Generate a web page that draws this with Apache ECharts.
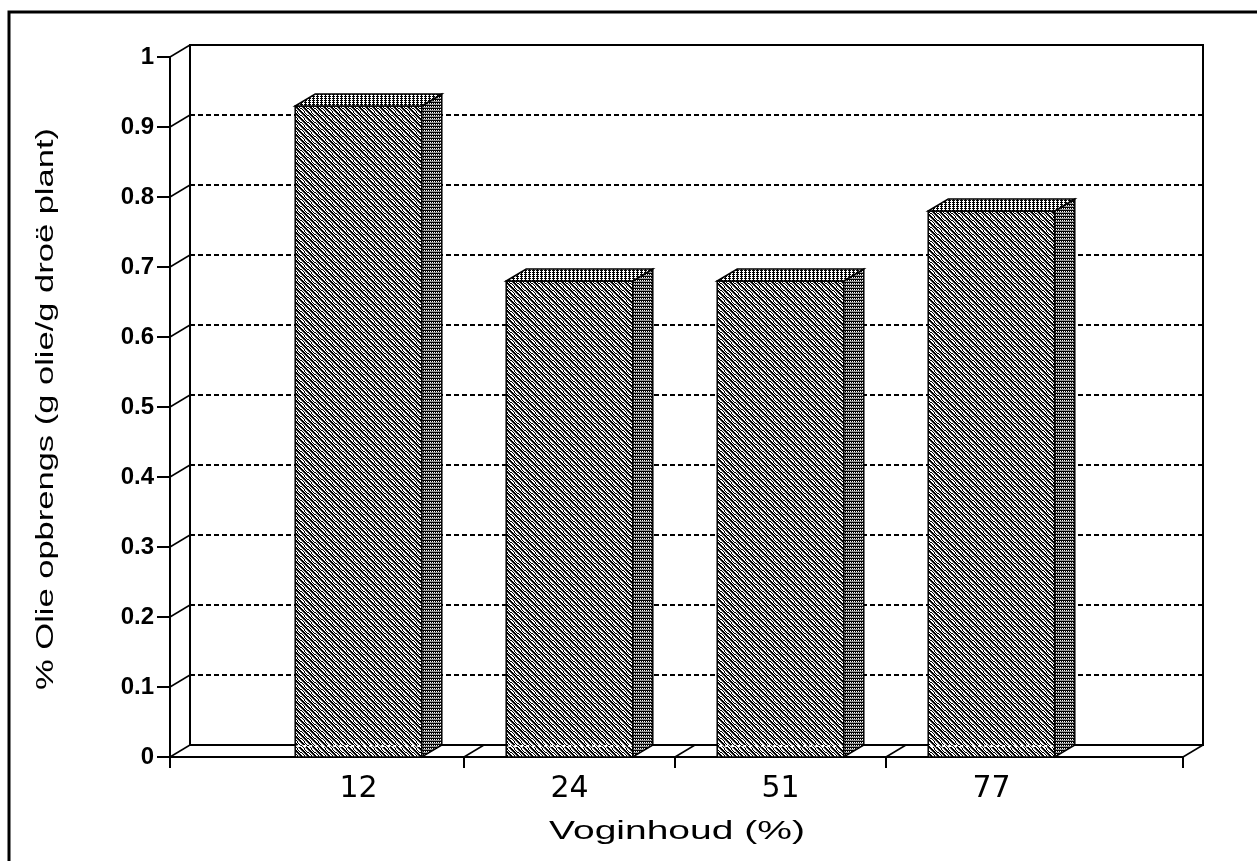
<!DOCTYPE html>
<html>
<head>
<meta charset="utf-8">
<title>Olie opbrengs</title>
<script src="https://cdn.jsdelivr.net/npm/echarts@6/dist/echarts.min.js"></script>
<style>
  html, body { margin: 0; padding: 0; background: #fff; }
  #chart { width: 1257px; height: 861px; }
</style>
</head>
<body>
<div id="chart"></div>
<script>
// data
const categories = ['12', '24', '51', '77'];
const oilYield = [0.93, 0.68, 0.68, 0.78];
const yMin = 0;
const yMax = 1;
const yStep = 0.1;
const xTitle = 'Voginhoud (%)';
const yTitle = '% Olie opbrengs (g olie/g droë plant)';

// layout: front plane, back wall (shifted by depth), bar band area
const depth = [20, -12];
const front = { left: 170, top: 57, width: 1013, height: 700 };
const back = { left: front.left + depth[0], top: front.top + depth[1], width: front.width, height: front.height };
const barArea = { left: 253, top: front.top, width: 844, height: front.height };
const FONT = '"Liberation Sans", Arial, sans-serif';

const yTicks = [];
for (let i = 0; i <= Math.round((yMax - yMin) / yStep); i++) {
  yTicks.push(+(yMin + i * yStep).toFixed(2));
}

// bitmap-like fill patterns
function makePattern(w, h, pick) {
  const c = document.createElement('canvas');
  c.width = w;
  c.height = h;
  const ctx = c.getContext('2d');
  const img = ctx.createImageData(w, h);
  for (let y = 0; y < h; y++) {
    for (let x = 0; x < w; x++) {
      const v = pick(x, y);
      const k = (y * w + x) * 4;
      img.data[k] = img.data[k + 1] = img.data[k + 2] = v;
      img.data[k + 3] = 255;
    }
  }
  ctx.putImageData(img, 0, 0);
  return { image: c, repeat: 'repeat' };
}

const frontFill = makePattern(7, 7, (x, y) => {
  const d = ((x - y) % 7 + 7) % 7;
  if (d === 0 || d === 1) return 0;
  if (d === 3 || d === 4) return (x + y) % 2 ? 0 : 255;
  if (d === 6) return 120;
  return 255;
});
const sideFill = makePattern(2, 3, (x, y) => {
  if (y === 0) return 0;
  if (y === 1) return x % 2 ? 0 : 255;
  return 150;
});
const topFill = makePattern(4, 2, (x, y) => {
  if (y === 0) return x !== 3 ? 0 : 255;
  return x === 1 ? 0 : 255;
});

function renderBar(params, api) {
  const top = api.coord([api.value(0), api.value(1)]);
  const base = api.coord([api.value(0), 0]);
  const w = api.size([1, 0])[0] * 0.6;
  const x0 = top[0] - w / 2;
  const x1 = x0 + w;
  const dx = depth[0];
  const dy = depth[1];
  const edge = { stroke: '#000', lineWidth: 1.5 };
  return {
    type: 'group',
    children: [
      {
        type: 'rect',
        shape: { x: x0, y: top[1], width: w, height: base[1] - top[1] },
        style: Object.assign({ fill: frontFill }, edge)
      },
      {
        type: 'line',
        shape: { x1: x0 + 2, y1: base[1] + dy + 1, x2: x1 - 1, y2: base[1] + dy + 1 },
        style: { stroke: '#fff', lineWidth: 2, lineDash: [3, 3] }
      },
      {
        type: 'polygon',
        shape: { points: [[x1, top[1]], [x1 + dx, top[1] + dy], [x1 + dx, base[1] + dy], [x1, base[1]]] },
        style: Object.assign({ fill: sideFill }, edge)
      },
      {
        type: 'polygon',
        shape: { points: [[x0, top[1]], [x0 + dx, top[1] + dy], [x1 + dx, top[1] + dy], [x1, top[1]]] },
        style: Object.assign({ fill: topFill }, edge)
      }
    ]
  };
}

// short slanted lines joining the front axes to the back wall
function renderDepthLine(params, api) {
  const p = api.coord([api.value(0), api.value(1)]);
  return {
    type: 'line',
    shape: { x1: p[0], y1: p[1], x2: p[0] + depth[0], y2: p[1] + depth[1] },
    style: { stroke: '#000', lineWidth: 1.5 }
  };
}

// floor ticks between categories, each with its slanted line
function renderFloorTick(params, api) {
  const c = api.coord([api.value(0), 0]);
  const x = c[0] - api.size([1, 0])[0] / 2;
  return {
    type: 'group',
    children: [
      { type: 'line', shape: { x1: x, y1: c[1], x2: x, y2: c[1] + 11 }, style: { stroke: '#000', lineWidth: 2 } },
      { type: 'line', shape: { x1: x, y1: c[1], x2: x + depth[0], y2: c[1] + depth[1] }, style: { stroke: '#000', lineWidth: 1.5 } }
    ]
  };
}

const chart = echarts.init(document.getElementById('chart'));
chart.setOption({
  animation: false,
  backgroundColor: '#fff',
  textStyle: { fontFamily: FONT, color: '#000' },
  grid: [
    Object.assign({ show: true, borderColor: '#000', borderWidth: 2, backgroundColor: 'transparent' }, back),
    Object.assign({ show: false }, front),
    Object.assign({ show: false }, barArea)
  ],
  xAxis: [
    { gridIndex: 0, type: 'value', min: 0, max: 1, axisLine: { show: false }, axisTick: { show: false }, axisLabel: { show: false }, splitLine: { show: false } },
    {
      gridIndex: 1, type: 'value', min: 0, max: 1, interval: 1,
      axisLine: { show: true, onZero: false, lineStyle: { color: '#000', width: 2 } },
      axisTick: { show: true, length: 11, lineStyle: { color: '#000', width: 2 } },
      axisLabel: { show: false },
      splitLine: { show: false }
    },
    {
      gridIndex: 2, type: 'category', data: categories,
      axisLine: { show: false }, axisTick: { show: false },
      axisLabel: { fontSize: 30, color: '#000', margin: 17, fontFamily: '"DejaVu Sans", sans-serif' },
      splitLine: { show: false }
    }
  ],
  yAxis: [
    {
      gridIndex: 0, type: 'value', min: yMin, max: yMax, interval: yStep,
      axisLine: { show: false }, axisTick: { show: false }, axisLabel: { show: false },
      splitLine: { show: true, lineStyle: { color: '#000', width: 2, type: [5, 3] } }
    },
    {
      gridIndex: 1, type: 'value', min: yMin, max: yMax, interval: yStep,
      axisLine: { show: true, lineStyle: { color: '#000', width: 2 } },
      axisTick: { show: true, length: 13, lineStyle: { color: '#000', width: 2 } },
      axisLabel: { fontSize: 24, fontWeight: 'bold', color: '#000', margin: 16, fontFamily: FONT },
      splitLine: { show: false }
    },
    { gridIndex: 2, type: 'value', min: yMin, max: yMax, show: false }
  ],
  graphic: [
    { type: 'rect', shape: { x: 9, y: 12, width: 1300, height: 900 }, style: { fill: 'none', stroke: '#000', lineWidth: 3 }, silent: true },
    {
      type: 'text', x: 677, y: 832, scaleX: 1.5, silent: true,
      style: { text: xTitle, fill: '#000', fontSize: 26, fontFamily: FONT, align: 'center', verticalAlign: 'middle' }
    },
    {
      type: 'text', x: 47, y: 409, rotation: Math.PI / 2, scaleX: 1.5, silent: true,
      style: { text: yTitle, fill: '#000', fontSize: 23, fontFamily: FONT, align: 'center', verticalAlign: 'middle' }
    }
  ],
  series: [
    {
      type: 'custom', name: 'depth', xAxisIndex: 1, yAxisIndex: 1, silent: true, z: 1,
      renderItem: renderDepthLine,
      data: yTicks.map(v => [0, v]).concat([[1, 0]])
    },
    {
      type: 'custom', name: 'floor', xAxisIndex: 2, yAxisIndex: 2, silent: true, z: 1,
      renderItem: renderFloorTick,
      data: categories.slice(1).map((c, i) => [i + 1, 0])
    },
    {
      type: 'custom', name: 'Olie opbrengs', xAxisIndex: 2, yAxisIndex: 2, z: 3,
      renderItem: renderBar,
      data: categories.map((c, i) => [i, oilYield[i]])
    }
  ]
});
</script>
</body>
</html>
